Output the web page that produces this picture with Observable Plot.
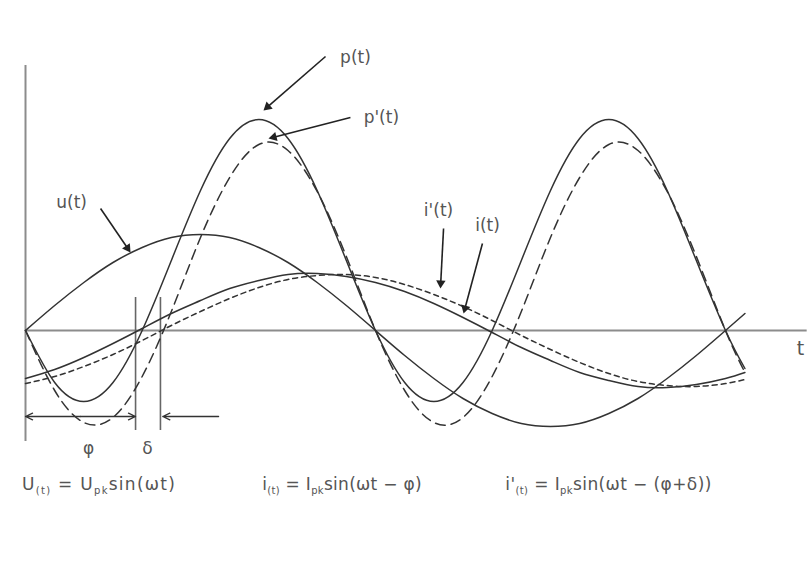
<!DOCTYPE html>
<html><head><meta charset="utf-8">
<script src="https://cdn.jsdelivr.net/npm/d3@7"></script>
<script src="https://cdn.jsdelivr.net/npm/@observablehq/plot@0.6"></script>
<style>body{margin:0;background:#fff;} svg{display:block}</style>
</head><body><div id="chart"></div>
<script>
// phase angle ωt in degrees (x) and instantaneous values (y, arbitrary units)
const angle      = [0,15,30,45,60,75,90,105,120,135,150,165,180,195,210,225,240,255,270,285,300,315,330,345,360,370];
const uVals      = [0,25,48,68,83,93,96,93,83,68,48,25,0,-25,-48,-68,-83,-93,-96,-93,-83,-68,-48,-25,0,17];
const iVals      = [-48,-39,-27,-13,2,17,30,42,50,56,57,54,48,39,27,13,-2,-17,-30,-42,-50,-56,-57,-54,-48,-42];
const iPrimeVals = [-53,-46,-36,-24,-10,5,19,32,43,51,55,56,53,46,36,24,10,-5,-19,-32,-43,-51,-55,-56,-53,-49];
const pVals      = [0,-52,-71,-52,0,70,140,192,211,192,140,70,0,-52,-71,-52,0,70,140,192,211,192,140,70,0,-38];
const pPrimeVals = [0,-60,-92,-87,-46,19,93,153,186,180,139,74,0,-60,-92,-87,-46,19,93,153,186,180,139,74,0,-42];

// phase marks φ and φ+δ (degrees)
const phi = 56.6, phiDelta = 69.4, deltaArrowStart = 99.3;

// curve labels
const labelText  = ["p(t)", "p'(t)", "u(t)", "i'(t)", "i(t)"];
const labelAngle = [169.7, 183, 23.7, 212.4, 237.6];
const labelLevel = [273, 213, 128, 120, 105];
const arrowFromAngle = [154.3, 167.1, 38.6, 215, 235];
const arrowFromLevel = [274, 213, 122, 102, 87];
const arrowToAngle   = [122.4, 125, 54, 213.4, 225.3];
const arrowToLevel   = [220, 192, 78, 42, 17];

// formulas
const formulaParts = [
  [["U",0],["(t)",1],[" = U",0],["pk",1],["sin(ωt)",0]],
  [["i",0],["(t)",1],[" = I",0],["pk",1],["sin(ωt − φ)",0]],
  [["i'",0],["(t)",1],[" = I",0],["pk",1],["sin(ωt − (φ+δ))",0]]
];
const formulaAngle = [-1.5, 122, 247];
const formulaEndAngle = [77.1, 204, 353];

const xOpts = {domain: [-12.86, 403.2], range: [0, 809]};
const yOpts = {domain: [-245, 330], range: [575, 0]};
const xs = Plot.scale({x: xOpts}), ys = Plot.scale({y: yOpts});

const series = (vals) => angle.map((a, k) => ({a, v: vals[k]}));

const heads = arrowToAngle.map((a, k) => {
  const x1 = xs.apply(arrowFromAngle[k]), y1 = ys.apply(arrowFromLevel[k]);
  const x2 = xs.apply(a), y2 = ys.apply(arrowToLevel[k]);
  const dx = x2 - x1, dy = y2 - y1, len = Math.hypot(dx, dy), back = 5.4;
  return {x1: arrowFromAngle[k], y1: arrowFromLevel[k],
          x: xs.invert(x2 - dx / len * back), y: ys.invert(y2 - dy / len * back),
          rotate: Math.atan2(dx, -dy) * 180 / Math.PI};
});

const labels = labelText.map((t, k) => ({t, a: labelAngle[k], v: labelLevel[k]}));
const ink = "#333", font = "DejaVu Sans", textCol = "#555";

const plot = Plot.plot({
  width: 809, height: 575,
  marginTop: 0, marginRight: 0, marginBottom: 0, marginLeft: 0,
  x: {...xOpts, axis: null},
  y: {...yOpts, axis: null},
  style: {background: "#fff", fontFamily: font},
  marks: [
    Plot.ruleY([0], {x1: 0, x2: 402, stroke: "#8c8c8c", strokeWidth: 2}),
    Plot.ruleX([0], {y1: -111, y2: 265, stroke: "#8c8c8c", strokeWidth: 2}),
    Plot.ruleX([phi, phiDelta], {y1: -100, y2: 33, stroke: "#666", strokeWidth: 1.6}),
    Plot.line(series(uVals), {x: "a", y: "v", curve: "natural", stroke: ink, strokeWidth: 1.5}),
    Plot.line(series(iVals), {x: "a", y: "v", curve: "natural", stroke: ink, strokeWidth: 1.5}),
    Plot.line(series(iPrimeVals), {x: "a", y: "v", curve: "natural", stroke: ink, strokeWidth: 1.5, strokeDasharray: "5,4"}),
    Plot.line(series(pVals), {x: "a", y: "v", curve: "natural", stroke: ink, strokeWidth: 1.5}),
    Plot.line(series(pPrimeVals), {x: "a", y: "v", curve: "natural", stroke: ink, strokeWidth: 1.5, strokeDasharray: "10,6"}),
    // φ and δ span arrows
    Plot.arrow([{x1: phi / 2, x2: 0}, {x1: phi / 2, x2: phi}], {x1: "x1", x2: "x2", y1: -86, y2: -86, stroke: ink, strokeWidth: 1.3, headLength: 9, headAngle: 50}),
    Plot.arrow([{x1: deltaArrowStart, x2: phiDelta + 1.2}], {x1: "x1", x2: "x2", y1: -86, y2: -86, stroke: ink, strokeWidth: 1.3, headLength: 9, headAngle: 50}),
    Plot.text(["φ", "δ"], {x: [32.4, 62.7], y: [-118, -118], text: d => d, fontSize: 17, fill: textCol}),
    // label arrows
    Plot.link(heads, {x1: "x1", y1: "y1", x2: "x", y2: "y", stroke: "#222", strokeWidth: 1.6}),
    Plot.dot(heads, {x: "x", y: "y", rotate: "rotate", symbol: "triangle", r: 3.5, fill: "#222", stroke: null}),
    Plot.text(labels, {x: "a", y: "v", text: "t", fontSize: 17, fill: textCol}),
    Plot.text(["t"], {x: [398.6], y: [-18], text: d => d, fontSize: 19, fill: textCol})
  ]
});
document.getElementById("chart").appendChild(plot);

// formulas with subscripts
const svg = d3.select(plot);
formulaParts.forEach((parts, k) => {
  const x0 = plot.scale("x").apply(formulaAngle[k]);
  const x1 = plot.scale("x").apply(formulaEndAngle[k]);
  const y0 = plot.scale("y").apply(-160);
  const t = svg.append("text").attr("x", x0).attr("y", y0).attr("text-anchor", "start")
    .attr("font-family", font).attr("font-size", 17).attr("fill", textCol);
  let shifted = false, n = 0;
  parts.forEach(([s, sub]) => {
    const ts = t.append("tspan").text(s);
    if (sub && !shifted) { ts.attr("dy", 4).attr("font-size", 10); shifted = true; }
    else if (sub) ts.attr("font-size", 10);
    else if (shifted) { ts.attr("dy", -4); shifted = false; }
    n += s.length;
  });
  const w = t.node().getComputedTextLength();
  const ls = ((x1 - x0) - w) / (n - 1);
  t.attr("letter-spacing", ls.toFixed(2));
});
</script>
</body></html>
